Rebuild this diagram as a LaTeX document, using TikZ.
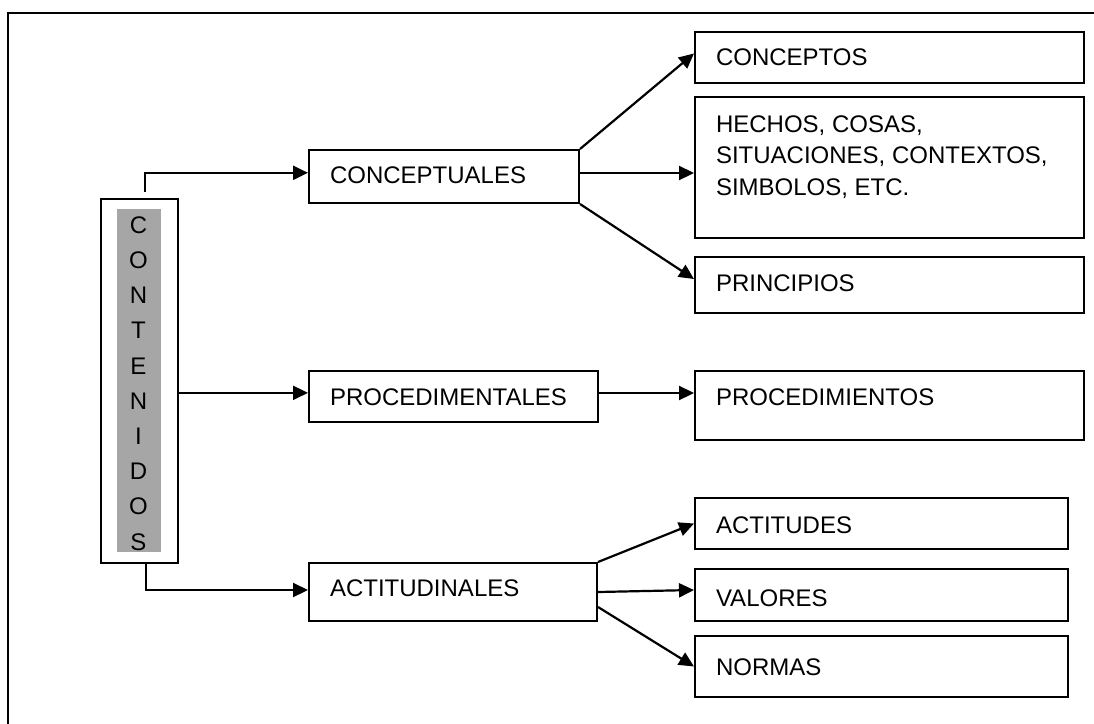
\documentclass[tikz,border=0pt]{standalone}
\usepackage{fontspec}
\setmainfont{Liberation Sans}
\usetikzlibrary{arrows.meta}
\definecolor{graybg}{RGB}{166,166,166}
\newcommand\bxtext[4]{\begin{minipage}[t][#2][t]{#1}\leftskip=21pt\rightskip=0pt plus 1fil\parindent=0pt\rule{0pt}{#3}#4\end{minipage}}
\tikzset{
  txt/.style={font=\fontsize{24}{31.7}\selectfont},
  boxnode/.style={draw, line width=2pt, inner sep=0pt, anchor=north west, txt},
  conn/.style={line width=2.2pt, -{Triangle[length=15pt,width=14pt]}},
}
\begin{document}
\begin{tikzpicture}[x=1pt,y=-1pt]
\useasboundingbox (0,0) rectangle (1094,723);
% frame (left and top edges only visible)
\draw[line width=2.2pt] (8,730) -- (8,13) -- (1100,13);
% CONTENIDOS
\node[draw, line width=2pt, minimum width=76.7pt, minimum height=364.3pt, inner sep=0pt, anchor=north west] (cont) at (100,197.7) {};
\node[fill=graybg, minimum width=44.3pt, minimum height=342.7pt, inner sep=0pt, anchor=north west] (contfill) at (116.7,209) {};
\node[font=\fontsize{24}{35.2}\selectfont, align=center, inner sep=0pt, anchor=north] (contlbl) at (138.5,216.3) {C\\O\\N\\T\\E\\N\\I\\D\\O\\S};
% middle column
\node[boxnode] (conceptuales) at (308,149) {\bxtext{270pt}{53pt}{33pt}{CONCEPTUALES}};
\node[boxnode] (procedimentales) at (308,370) {\bxtext{289pt}{51pt}{34pt}{PROCEDIMENTALES}};
\node[boxnode] (actitudinales) at (308,562) {\bxtext{288pt}{58pt}{33pt}{ACTITUDINALES}};
% right column
\node[boxnode] (conceptos) at (694,31) {\bxtext{389pt}{51pt}{33pt}{CONCEPTOS}};
\node[boxnode] (hechos) at (694,96) {\bxtext{389pt}{141pt}{35pt}{HECHOS, COSAS,\\SITUACIONES, CONTEXTOS,\\SIMBOLOS, ETC.}};
\node[boxnode] (principios) at (694,256) {\bxtext{389pt}{56pt}{34pt}{PRINCIPIOS}};
\node[boxnode] (procedimientos) at (694,370) {\bxtext{389pt}{69pt}{34pt}{PROCEDIMIENTOS}};
\node[boxnode] (actitudes) at (694,497) {\bxtext{373pt}{51pt}{35pt}{ACTITUDES}};
\node[boxnode] (valores) at (694,568) {\bxtext{373pt}{52pt}{37pt}{VALORES}};
\node[boxnode] (normas) at (694,635) {\bxtext{373pt}{61pt}{39pt}{NORMAS}};
% connectors from CONTENIDOS
\coordinate (ctop) at (145,191.7);
\draw[conn] (ctop) |- ([yshift=3.7pt]conceptuales.west);
\draw[conn] ([yshift=-12pt]cont.east) -- ([yshift=-12pt]cont.east -| procedimentales.west);
\draw[conn] ([xshift=6.7pt]cont.south) |- ([yshift=2pt]actitudinales.west);
% from CONCEPTUALES
\draw[conn] (conceptuales.north east) -- ([yshift=4pt]conceptos.west);
\draw[conn] ([yshift=3.5pt]conceptuales.east) -- ([yshift=3.5pt]conceptuales.east -| hechos.west);
\draw[conn] (conceptuales.south east) -- ([yshift=6pt]principios.west);
% from PROCEDIMENTALES
\draw[conn] ([yshift=3.5pt]procedimentales.east) -- ([yshift=3.5pt]procedimentales.east -| procedimientos.west);
% from ACTITUDINALES
\draw[conn] (actitudinales.north east) -- (actitudes.west);
\draw[conn] (actitudinales.east) -- ([yshift=5pt]valores.west);
\draw[conn] ([yshift=-15pt]actitudinales.east) -- (normas.west);
\end{tikzpicture}
\end{document}
